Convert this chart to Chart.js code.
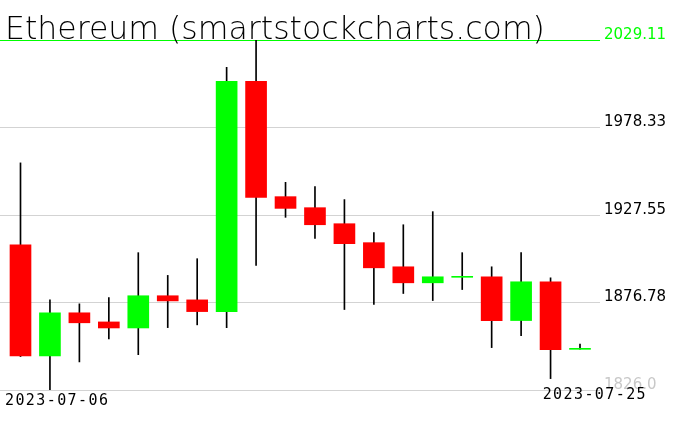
<!DOCTYPE html>
<html>
<head>
<meta charset="utf-8">
<script src="https://cdn.jsdelivr.net/npm/chart.js@4/dist/chart.umd.min.js"></script>
<style>
  html, body { margin: 0; padding: 0; background: #ffffff; }
  #wrap { width: 676px; height: 431px; }
</style>
</head>
<body>
<div id="wrap"><canvas id="c" width="676" height="431"></canvas></div>
<script>
const chartTitle = 'Ethereum (smartstockcharts.com)';
const dates = ['2023-07-06','2023-07-07','2023-07-08','2023-07-09','2023-07-10','2023-07-11','2023-07-12','2023-07-13','2023-07-14','2023-07-15','2023-07-16','2023-07-17','2023-07-18','2023-07-19','2023-07-20','2023-07-21','2023-07-22','2023-07-23','2023-07-24','2023-07-25'];
const opens  = [1910.3, 1845.8, 1870.8, 1865.5, 1862.0, 1880.7, 1878.3, 1871.5, 2005.1, 1938.2, 1931.8, 1922.5, 1911.5, 1897.5, 1888.2, 1891.4, 1891.7, 1866.3, 1888.8, 1849.6];
const highs  = [1957.8, 1878.3, 1876.0, 1879.7, 1905.7, 1892.5, 1902.2, 2013.2, 2029.11, 1946.5, 1944.0, 1936.5, 1917.3, 1921.9, 1929.5, 1905.7, 1897.5, 1905.7, 1891.1, 1852.7];
const lows   = [1845.4, 1826.0, 1842.3, 1855.7, 1846.5, 1862.2, 1863.8, 1862.2, 1898.3, 1926.2, 1914.0, 1872.7, 1875.6, 1882.0, 1877.9, 1884.3, 1850.6, 1857.6, 1832.6, 1849.7];
const closes = [1845.8, 1870.8, 1865.0, 1862.0, 1880.7, 1877.7, 1871.5, 2005.1, 1937.8, 1931.4, 1921.9, 1910.9, 1896.9, 1888.2, 1891.7, 1891.6, 1866.3, 1888.8, 1849.4, 1849.7];
const yTickValues = [1826.0, 1876.78, 1927.55, 1978.33, 2029.11];
const yTickLabels = ['1826.0', '1876.78', '1927.55', '1978.33', '2029.11'];
const xLabels = [dates[0], dates[dates.length - 1]];

const GREEN = '#00ff00', RED = '#ff0000', GRID = '#d3d3d3';

const bodyData = dates.map((d, i) => ({ x: i, y: [opens[i], closes[i]] }));
const wickData = dates.map((d, i) => ({ x: i, y: [lows[i], highs[i]] }));
const bodyColors = dates.map((d, i) => closes[i] >= opens[i] ? GREEN : RED);

const textPlugin = {
  id: 'texts',
  afterDraw(chart) {
    const ctx = chart.ctx;
    const a = chart.chartArea;
    ctx.save();
    ctx.fillStyle = '#000000';
    ctx.textBaseline = 'alphabetic';
    ctx.textAlign = 'left';
    let size = 31;
    ctx.font = '200 ' + size + 'px "DejaVu Sans"';
    const w = ctx.measureText(chartTitle).width;
    size = size * 540 / w;
    ctx.font = '200 ' + size.toFixed(2) + 'px "DejaVu Sans"';
    ctx.fillText(chartTitle, a.left + 5, 38.5);
    ctx.font = '15px "DejaVu Sans Mono"';
    try { ctx.letterSpacing = '1.4px'; } catch (e) {}
    ctx.textBaseline = 'middle';
    ctx.textAlign = 'left';
    ctx.fillText(xLabels[0], a.left + 5, 401);
    ctx.textAlign = 'right';
    ctx.fillText(xLabels[1], a.right + 47, 395);
    ctx.restore();
  }
};

new Chart(document.getElementById('c'), {
  type: 'bar',
  data: {
    labels: dates,
    datasets: [
      {
        label: 'body',
        data: bodyData,
        backgroundColor: bodyColors,
        borderWidth: 0,
        barThickness: 21,
        minBarLength: 1,
        grouped: false,
        order: 0
      },
      {
        label: 'wick',
        data: wickData,
        backgroundColor: '#000000',
        borderWidth: 0,
        barThickness: 1,
        grouped: false,
        order: 1
      }
    ]
  },
  options: {
    responsive: false,
    devicePixelRatio: 1,
    animation: false,
    layout: { padding: { top: 40, bottom: 41, left: 0, right: 0 } },
    plugins: { legend: { display: false }, title: { display: false }, tooltip: { enabled: false } },
    scales: {
      x: {
        type: 'linear',
        display: false,
        offset: false,
        grid: { offset: false },
        min: -0.696,
        max: 19.679
      },
      y: {
        position: 'right',
        min: yTickValues[0],
        max: yTickValues[yTickValues.length - 1],
        afterBuildTicks(scale) { scale.ticks = yTickValues.map(v => ({ value: v })); },
        afterFit(scale) { scale.width = 76; },
        border: { display: false },
        grid: {
          drawTicks: false,
          color: (c) => (c.index === yTickValues.length - 1 ? GREEN : GRID),
          lineWidth: 1
        },
        ticks: {
          padding: 4,
          labelOffset: -5,
          font: { family: '"DejaVu Sans"', size: 15 },
          color: (c) => (c.index === yTickValues.length - 1 ? GREEN : (c.index === 0 ? '#c8c8c8' : '#000000')),
          callback: (v, i) => yTickLabels[i]
        }
      }
    }
  },
  plugins: [textPlugin]
});
</script>
</body>
</html>
